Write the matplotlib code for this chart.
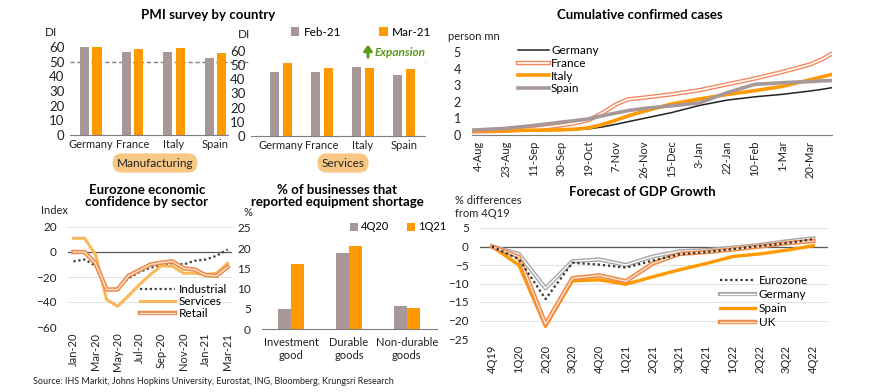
import numpy as np
import pandas as pd
import matplotlib.pyplot as plt
import matplotlib.patheffects as pe

plt.rcParams['font.family'] = ['Lato', 'DejaVu Sans']
plt.rcParams['font.size'] = 8

GRAY = '#a89797'
ORANGE = '#ff9900'
LIGHT_OR = '#f9c784'
TXT = '#222222'

# PMI survey
pmi_countries = ['Germany', 'France', 'Italy', 'Spain']
mfg_feb = [60.0, 56.5, 56.3, 52.5]
mfg_mar = [60.0, 58.5, 59.0, 56.0]
svc_feb = [45.3, 45.3, 48.4, 42.7]
svc_mar = [51.2, 47.7, 47.7, 47.2]

# cumulative confirmed cases (person mn)
case_dates = ['2020-07-31', '2020-08-04', '2020-08-23', '2020-09-11', '2020-09-30',
              '2020-10-10', '2020-10-19', '2020-10-28', '2020-11-07', '2020-11-15',
              '2020-11-26', '2020-12-15', '2021-01-03', '2021-01-22', '2021-02-10',
              '2021-03-01', '2021-03-20', '2021-03-28', '2021-04-04']
cases_germany = [0.21, 0.21, 0.23, 0.26, 0.29, 0.32, 0.37, 0.48, 0.65, 0.80, 1.00,
                 1.35, 1.78, 2.10, 2.30, 2.45, 2.65, 2.75, 2.85]
cases_france = [0.22, 0.22, 0.26, 0.37, 0.58, 0.72, 0.90, 1.30, 1.85, 2.15, 2.25,
                2.45, 2.70, 3.05, 3.40, 3.80, 4.25, 4.55, 4.90]
cases_italy = [0.25, 0.25, 0.26, 0.29, 0.31, 0.35, 0.43, 0.62, 0.90, 1.15, 1.43,
               1.87, 2.17, 2.44, 2.67, 2.93, 3.33, 3.50, 3.65]
cases_spain = [0.30, 0.31, 0.40, 0.57, 0.77, 0.87, 0.97, 1.15, 1.33, 1.47, 1.60,
               1.76, 1.93, 2.55, 3.05, 3.15, 3.22, 3.26, 3.28]

# Eurozone confidence
conf_months = ['Jan-20', 'Feb-20', 'Mar-20', 'Apr-20', 'May-20', 'Jun-20', 'Jul-20', 'Aug-20',
               'Sep-20', 'Oct-20', 'Nov-20', 'Dec-20', 'Jan-21', 'Feb-21', 'Mar-21']
conf_industrial = [-7.5, -6, -11, -31, -29, -21, -16, -12.5, -10.5, -9, -10, -7, -6, -3, 2]
conf_services = [11, 11, -2, -38, -43.5, -35, -26, -18, -11, -11.5, -17, -17, -18, -17, -9]
conf_retail = [0, 0, -9, -30, -30, -19, -14.5, -10, -8.5, -7.5, -13, -14, -18.5, -19, -12]

# equipment shortage
equip_cats = ['Investment\ngood', 'Durable\ngoods', 'Non-durable\ngoods']
equip_4q20 = [4.9, 18.9, 5.8]
equip_1q21 = [16.1, 20.5, 5.2]

# GDP forecast
gdp_q = ['4Q19', '1Q20', '2Q20', '3Q20', '4Q20', '1Q21', '2Q21', '3Q21', '4Q21',
         '1Q22', '2Q22', '3Q22', '4Q22']
gdp_eurozone = [0, -3.4, -14.2, -4.4, -4.9, -5.7, -3.8, -2.1, -1.5, -0.7, 0.1, 0.9, 2.0]
gdp_germany = [0, -2.0, -11.3, -4.0, -3.5, -5.0, -2.7, -1.3, -1.0, -0.3, 0.4, 1.4, 2.2]
gdp_spain = [0, -5.0, -21.6, -9.3, -9.0, -10.2, -8.2, -6.3, -4.6, -2.7, -2.0, -1.0, 0.2]
gdp_uk = [0, -2.8, -21.0, -8.6, -7.8, -9.4, -4.6, -2.0, -1.5, -0.8, 0.0, 0.9, 1.5]

W, H = 870, 392
fig = plt.figure(figsize=(W / 100, H / 100), dpi=100)


def rect(x0, y0, x1, y1):
    return [x0 / W, 1 - y1 / H, (x1 - x0) / W, (y1 - y0) / H]


def fx(x):
    return x / W


def fy(y):
    return 1 - y / H


def clean(ax, grid=False):
    for s in ['top', 'right', 'left']:
        ax.spines[s].set_visible(False)
    ax.spines['bottom'].set_color('#7f7f7f')
    ax.tick_params(length=0, colors=TXT)
    if grid:
        ax.yaxis.grid(True, color='#e3e3e3', lw=0.8)
        ax.set_axisbelow(True)


def outline(color, w=3.2):
    return [pe.Stroke(linewidth=w, foreground=color), pe.Normal()]


# ---- PMI manufacturing / services
x = np.arange(len(pmi_countries))
ax_m = fig.add_axes(rect(70, 44, 228, 135))
ax_s = fig.add_axes(rect(251, 48, 425, 136))
for ax, feb, mar in [(ax_m, mfg_feb, mfg_mar), (ax_s, svc_feb, svc_mar)]:
    ax.bar(x - 0.15, feb, 0.22, color=GRAY, label='Feb-21')
    ax.bar(x + 0.15, mar, 0.22, color=ORANGE, label='Mar-21')
    ax.set_ylim(0, 62)
    ax.set_yticks(range(0, 61, 10))
    ax.set_xticks(x, pmi_countries)
    clean(ax)
    ax.tick_params(axis='y', labelsize=9.5, pad=4)
    ax.tick_params(axis='x', labelsize=8, pad=3)
ax_m.set_xlim(-0.5, 3.3)
ax_s.set_xlim(-0.73, 3.51)
ax_m.axhline(50, xmin=0, xmax=(425 - 70) / 158, color='#7f7f7f', ls=(0, (3, 2)),
             lw=1, clip_on=False, zorder=0)
fig.text(fx(45), fy(32), 'DI', fontsize=8.5, color=TXT, va='center')
fig.text(fx(238), fy(34), 'DI', fontsize=8.5, color=TXT, va='center')
fig.text(fx(208), fy(15), 'PMI survey by country', fontsize=9.5, weight='bold',
         ha='center', va='center')
ax_s.legend(loc='center left', bbox_to_anchor=(fx(291), fy(32)),
            bbox_transform=fig.transFigure, ncol=2, frameon=False, fontsize=8.5,
            handlelength=0.7, handleheight=0.7, handletextpad=0.4, columnspacing=3.2,
            borderaxespad=0, borderpad=0)
ax_s.annotate('', xy=(fx(368), fy(42)), xytext=(fx(368), fy(60)),
              xycoords='figure fraction', textcoords='figure fraction',
              arrowprops=dict(arrowstyle='-|>,head_width=0.3,head_length=0.4',
                              color='#5a9a1c', lw=2.2))
fig.text(fx(375), fy(52), 'Expansion', color='#5a9a1c', fontsize=8.5,
         style='italic', weight='bold', va='center')
for label, cx in [('Manufacturing', 155), ('Services', 343)]:
    fig.text(fx(cx), fy(163), label, fontsize=8.5, ha='center', va='center', color=TXT,
             bbox=dict(boxstyle='round,pad=0.35,rounding_size=0.8', fc=LIGHT_OR,
                       ec='none'))

# ---- cumulative cases
dts = pd.to_datetime(case_dates)
ax_c = fig.add_axes(rect(472, 47, 832, 135))
ax_c.plot(dts, cases_germany, color='#222222', lw=1.1, label='Germany')
ax_c.plot(dts, cases_france, color='white', lw=1.2, label='France',
          path_effects=outline('#f4895f', 3.2))
ax_c.plot(dts, cases_italy, color=ORANGE, lw=2.6, label='Italy')
ax_c.plot(dts, cases_spain, color=GRAY, lw=2.6, label='Spain')
ax_c.set_xlim(dts[0], dts[-1])
ax_c.set_ylim(0, 5.3)
ax_c.set_yticks(range(0, 6))
tick_dates = pd.date_range('2020-08-04', periods=13, freq='19D')
ax_c.set_xticks(tick_dates, [f'{d.day}-{d.strftime("%b")}' for d in tick_dates],
                rotation=90)
clean(ax_c)
ax_c.tick_params(axis='y', labelsize=9, pad=8)
ax_c.tick_params(axis='x', labelsize=8, pad=4)
ax_c.legend(loc='upper left', bbox_to_anchor=(fx(518), fy(45)),
            bbox_transform=fig.transFigure, frameon=False, fontsize=8.5,
            handlelength=2.6, handletextpad=0.2, labelspacing=0.15,
            borderaxespad=0, borderpad=0)
fig.text(fx(448), fy(37), 'person mn', fontsize=8, color=TXT, va='center')
fig.text(fx(640), fy(15), 'Cumulative confirmed cases', fontsize=9.5,
         weight='bold', ha='center', va='center')

# ---- Eurozone confidence
xi = np.arange(len(conf_months))
ax_e = fig.add_axes(rect(68, 227, 232, 327))
ax_e.plot(xi, conf_industrial, color='#404040', lw=1.6, ls=(0, (1, 1.2)),
          label='Industrial')
ax_e.plot(xi, conf_services, color='#f9b95a', lw=2.2, label='Services')
ax_e.plot(xi, conf_retail, color='#fde3cf', lw=1.0, label='Retail',
          path_effects=outline('#ee8a4a', 3.2))
ax_e.axhline(0, color='#595959', lw=0.9, zorder=1)
ax_e.set_xlim(-0.5, 14.4)
ax_e.set_ylim(-60, 20)
ax_e.set_yticks(range(-60, 21, 20))
ax_e.set_xticks(xi[::2], conf_months[::2], rotation=90)
clean(ax_e, grid=True)
ax_e.spines['bottom'].set_visible(False)
ax_e.tick_params(axis='y', labelsize=8.5, pad=8)
ax_e.tick_params(axis='x', labelsize=8, pad=4)
ax_e.legend(loc='upper left', bbox_to_anchor=(fx(140), fy(284)),
            bbox_transform=fig.transFigure, frameon=False, fontsize=8.5,
            handlelength=3.0, handletextpad=0.3, labelspacing=0.1,
            borderaxespad=0, borderpad=0)
fig.text(fx(41), fy(211), 'Index', fontsize=8, color=TXT, va='center')
fig.text(fx(147), fy(196), 'Eurozone economic\nconfidence by sector', fontsize=9.5,
         weight='bold', ha='center', va='center', linespacing=1.0)

# ---- equipment shortage
xe = np.arange(len(equip_cats))
ax_q = fig.add_axes(rect(262, 228, 437, 329))
ax_q.bar(xe - 0.112, equip_4q20, 0.224, color=GRAY, label='4Q20')
ax_q.bar(xe + 0.112, equip_1q21, 0.224, color=ORANGE, label='1Q21')
ax_q.set_xlim(-0.5, 2.52)
ax_q.set_ylim(0, 25)
ax_q.set_yticks(range(0, 26, 5))
ax_q.set_xticks(xe, equip_cats)
clean(ax_q)
ax_q.tick_params(axis='y', labelsize=8.5, pad=8)
ax_q.tick_params(axis='x', labelsize=8, pad=6)
ax_q.legend(loc='center left', bbox_to_anchor=(fx(350), fy(227)),
            bbox_transform=fig.transFigure, ncol=2, frameon=False, fontsize=8,
            handlelength=0.7, handleheight=0.7, handletextpad=0.3, columnspacing=1.6,
            borderaxespad=0, borderpad=0)
fig.text(fx(244), fy(213), '%', fontsize=8, color=TXT, va='center')
fig.text(fx(337), fy(196), '% of businesses that\nreported equipment shortage',
         fontsize=9.5, weight='bold', ha='center', va='center', linespacing=1.0)

# ---- GDP forecast
xg = np.arange(len(gdp_q))
ax_g = fig.add_axes(rect(480, 228, 828, 339))
ax_g.plot(xg, gdp_eurozone, color='#303030', lw=1.6, ls=(0, (1, 1.3)),
          label='Eurozone', zorder=4)
ax_g.plot(xg, gdp_germany, color='white', lw=1.0, label='Germany',
          path_effects=outline('#a6a6a6', 3.0))
ax_g.plot(xg, gdp_spain, color=ORANGE, lw=2.4, label='Spain')
ax_g.plot(xg, gdp_uk, color='#fde3cf', lw=1.0, label='UK',
          path_effects=outline('#ee8a4a', 3.2))
ax_g.axhline(0, color='#595959', lw=0.9, zorder=1)
ax_g.set_xlim(-0.45, 12.55)
ax_g.set_ylim(-25, 5)
ax_g.set_yticks(range(-25, 6, 5))
ax_g.set_xticks(xg, gdp_q, rotation=90)
clean(ax_g, grid=True)
ax_g.spines['bottom'].set_visible(False)
ax_g.tick_params(axis='y', labelsize=8.5, pad=8)
ax_g.tick_params(axis='x', labelsize=8, pad=4)
ax_g.legend(loc='upper left', bbox_to_anchor=(fx(720), fy(275)),
            bbox_transform=fig.transFigure, frameon=False, fontsize=8.5,
            handlelength=3.0, handletextpad=0.3, labelspacing=0.25,
            borderaxespad=0, borderpad=0)
fig.text(fx(455), fy(207), '% differences\nfrom 4Q19', fontsize=8, color=TXT,
         va='center', linespacing=1.3)
fig.text(fx(642), fy(192), 'Forecast of GDP Growth', fontsize=9.5, weight='bold',
         ha='center', va='center')

fig.text(fx(33), fy(382), 'Source: IHS Markit, Johns Hopkins University, Eurostat, ING, '
         'Bloomberg, Krungsri Research', fontsize=6.5, color=TXT, va='center')

fig.savefig('out.png', dpi=100)
